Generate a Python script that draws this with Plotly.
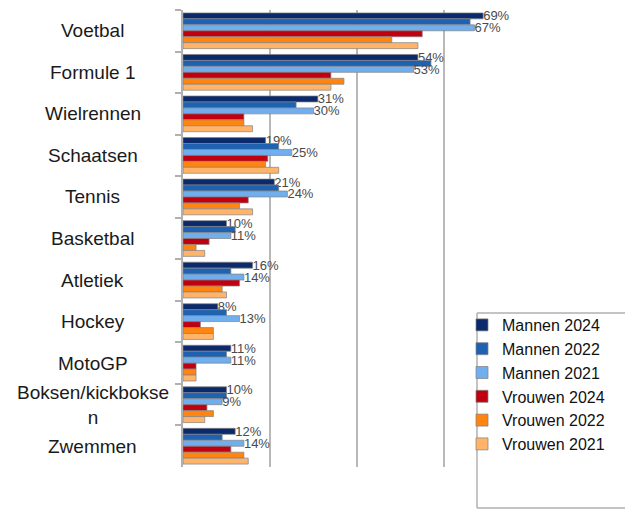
import plotly.graph_objects as go

categories = ["Voetbal", "Formule 1", "Wielrennen", "Schaatsen", "Tennis", "Basketbal",
              "Atletiek", "Hockey", "MotoGP", "Boksen/kickbokse<br>n", "Zwemmen"]

series_names = ["Mannen 2024", "Mannen 2022", "Mannen 2021",
                "Vrouwen 2024", "Vrouwen 2022", "Vrouwen 2021"]

mannen_2024 = [69, 54, 31, 19, 21, 10, 16, 8, 11, 10, 12]
mannen_2022 = [66, 57, 26, 22, 22, 12, 11, 10, 10, 10, 9]
mannen_2021 = [67, 53, 30, 25, 24, 11, 14, 13, 11, 9, 14]
vrouwen_2024 = [55, 34, 14, 19.5, 15, 6, 13, 4, 3, 5.5, 11]
vrouwen_2022 = [48, 37, 14, 19, 13, 3, 9, 7, 3, 7, 14]
vrouwen_2021 = [54, 34, 16, 22, 16, 5, 10, 7, 3, 5, 15]

series_values = [mannen_2024, mannen_2022, mannen_2021,
                 vrouwen_2024, vrouwen_2022, vrouwen_2021]
series_colors = ["#0b2a6c", "#1f62b2", "#70aeee", "#c00010", "#ff8510", "#ffb46a"]
labelled = [True, False, True, False, False, False]

# page is offset by the browser's 8px body margin, so the figure is sized to fit
W, H = 625, 501
L, R, T, B = 175, 102, 2, 42

fig = go.Figure()
for name, vals, col, lab in zip(series_names, series_values, series_colors, labelled):
    fig.add_trace(go.Bar(
        y=categories, x=vals, name=name, orientation="h",
        marker=dict(color=col, line=dict(color="rgba(130,130,130,0.7)", width=1)),
        texttemplate="%{x}%" if lab else None,
        textposition="outside" if lab else "none",
        constraintext="none",
        cliponaxis=False,
        textfont=dict(family="Liberation Sans, Arial", size=13, color="#4a4a4a"),
    ))

# category labels centred in the left column
for c in categories:
    fig.add_annotation(
        x=-0.259, xref="paper", y=c, yref="y", text=c, showarrow=False,
        xanchor="center", yanchor="middle",
        font=dict(family="Liberation Sans, Arial", size=19, color="#1a1a1a"),
    )

pw = W - L - R
ph = H - T - B
fx0 = (469 - L) / pw
fx1 = (W + 40 - L) / pw
fy0 = (H - B - 500) / ph
fy1 = (H - B - 305) / ph
frame = dict(color="#b0b0b0", width=1.5)
# legend frame: white panel, open on the right, as it runs off the picture edge
fig.add_shape(type="rect", xref="paper", yref="paper", x0=fx0, x1=fx1, y0=fy0, y1=fy1,
              fillcolor="white", line=dict(width=0), layer="above")
fig.add_shape(type="line", xref="paper", yref="paper", x0=fx0, x1=fx1, y0=fy1, y1=fy1,
              line=frame, layer="above")
fig.add_shape(type="line", xref="paper", yref="paper", x0=fx0, x1=fx0, y0=fy0, y1=fy1,
              line=frame, layer="above")
fig.add_shape(type="line", xref="paper", yref="paper", x0=fx0, x1=fx1, y0=fy0, y1=fy0,
              line=frame, layer="above")

fig.update_layout(
    width=W, height=H,
    margin=dict(l=L, r=R, t=T, b=B, autoexpand=False),
    paper_bgcolor="white", plot_bgcolor="white",
    barmode="group", bargap=0.14, bargroupgap=0,
    showlegend=True,
    legend=dict(x=(454 - L) / pw, y=(H - B - 300) / ph, xanchor="left", yanchor="top",
                bgcolor="rgba(0,0,0,0)", borderwidth=0,
                font=dict(family="Liberation Sans, Arial", size=16, color="#111111"),
                traceorder="normal", tracegroupgap=0),
    xaxis=dict(range=[0, 80], dtick=20, showticklabels=False, showgrid=True,
               gridcolor="#b8b8b8", gridwidth=2, zeroline=False, showline=False),
    yaxis=dict(autorange="reversed", showticklabels=False, tickson="boundaries",
               ticks="outside", ticklen=6, tickcolor="#b0b0b0", tickwidth=1.5,
               showline=True, linecolor="#b0b0b0", linewidth=2, showgrid=False),
)

fig.write_html("out.html")
